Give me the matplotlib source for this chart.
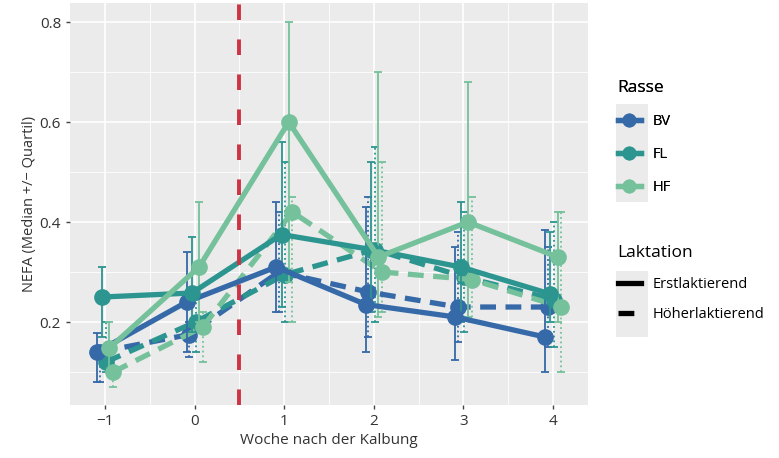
import matplotlib.pyplot as plt
from matplotlib.lines import Line2D
from matplotlib.patches import Rectangle

plt.rcParams['font.family'] = ['Open Sans', 'DejaVu Sans']

weeks = [-1, 0, 1, 2, 3, 4]
rassen = ["BV", "FL", "HF"]
farben = {"BV": "#3569a8", "FL": "#2c9590", "HF": "#74c19b"}

# Median, Erstlaktierend
erst_med = {
    "BV": [0.14, 0.24, 0.31, 0.235, 0.21, 0.17],
    "FL": [0.25, 0.258, 0.375, 0.345, 0.31, 0.256],
    "HF": [0.148, 0.31, 0.60, 0.33, 0.40, 0.33],
}
erst_q1 = {
    "BV": [0.08, 0.14, 0.22, 0.14, 0.125, 0.10],
    "FL": [0.17, 0.18, 0.23, 0.22, 0.20, 0.20],
    "HF": [0.10, 0.20, 0.28, 0.21, 0.21, 0.20],
}
erst_q3 = {
    "BV": [0.178, 0.34, 0.44, 0.43, 0.35, 0.384],
    "FL": [0.31, 0.37, 0.56, 0.52, 0.44, 0.38],
    "HF": [0.20, 0.44, 0.80, 0.70, 0.68, 0.42],
}
# Median, Hoeherlaktierend
hoeher_med = {
    "BV": [0.14, 0.175, 0.30, 0.26, 0.23, 0.23],
    "FL": [0.12, 0.20, 0.295, 0.345, 0.29, 0.245],
    "HF": [0.10, 0.19, 0.42, 0.30, 0.285, 0.23],
}
hoeher_q1 = {
    "BV": [0.08, 0.13, 0.22, 0.17, 0.16, 0.15],
    "FL": [0.10, 0.14, 0.20, 0.20, 0.18, 0.15],
    "HF": [0.07, 0.12, 0.20, 0.22, 0.20, 0.10],
}
hoeher_q3 = {
    "BV": [0.14, 0.20, 0.42, 0.45, 0.38, 0.35],
    "FL": [0.20, 0.25, 0.52, 0.55, 0.42, 0.40],
    "HF": [0.16, 0.22, 0.45, 0.52, 0.45, 0.42],
}

versatz_erst = {"BV": -0.09, "FL": -0.03, "HF": 0.05}
versatz_hoeher = {"BV": -0.06, "FL": 0.01, "HF": 0.09}

fig = plt.figure(figsize=(7.79, 4.58), dpi=100)
ax = fig.add_axes([0.0899, 0.1157, 0.665, 0.8777])
ax.set_facecolor("#ebebeb")
for s in ax.spines.values():
    s.set_visible(False)

def zeichne(med, q1, q3, versatz, ls, els, z):
    for r in rassen:
        x = [w + versatz[r] for w in weeks]
        lo = [m - a for m, a in zip(med[r], q1[r])]
        hi = [b - m for m, b in zip(med[r], q3[r])]
        eb = ax.errorbar(x, med[r], yerr=[lo, hi], fmt="none", ecolor=farben[r],
                         elinewidth=1.3, capsize=3, capthick=1.3, zorder=z)
        for lc in eb[2]:
            lc.set_linestyle(els)
        ax.plot(x, med[r], color=farben[r], lw=3.8, ls=ls, marker="o",
                markersize=11, zorder=z + 1, dashes=(3, 1.8) if ls == "--" else (None, None))

zeichne(hoeher_med, hoeher_q1, hoeher_q3, versatz_hoeher, "--", ":", 2)
zeichne(erst_med, erst_q1, erst_q3, versatz_erst, "-", "-", 4)

ax.axvline(0.5, color="#cc3344", lw=2.8, ls=(0, (4, 5)), zorder=6)

ax.set_xlim(-1.39, 4.39)
ax.set_ylim(0.034, 0.838)
ax.set_xticks(weeks)
ax.set_xticklabels(["\u22121", "0", "1", "2", "3", "4"])
ax.set_yticks([0.2, 0.4, 0.6, 0.8])
ax.set_yticks([0.1, 0.3, 0.5, 0.7], minor=True)
ax.set_xticks([-0.5, 0.5, 1.5, 2.5, 3.5], minor=True)
ax.grid(True, which="major", color="white", lw=1.2, zorder=0)
ax.grid(True, which="minor", color="white", lw=0.6, zorder=0)
ax.set_axisbelow(True)
ax.tick_params(which="major", length=3, width=1, color="#444444", labelsize=11, labelcolor="#333333")
ax.tick_params(which="minor", length=0)
ax.set_xlabel("Woche nach der Kalbung", fontsize=11, color="#333333", labelpad=3)
ax.set_ylabel("NEFA (Median +/\u2212 Quartil)", fontsize=10.5, color="#333333", labelpad=2)

# graue Hintergruende der Legendenschluessel
fig.add_artist(Rectangle((0.791, 0.559), 0.041, 0.214, transform=fig.transFigure,
                         facecolor="#ebebeb", edgecolor="none", zorder=0))
fig.add_artist(Rectangle((0.791, 0.265), 0.041, 0.143, transform=fig.transFigure,
                         facecolor="#ebebeb", edgecolor="none", zorder=0))

h_rasse = [Line2D([], [], color=farben[r], lw=3.8, marker="o", markersize=9) for r in rassen]
leg1 = fig.legend(h_rasse, rassen, loc="upper left", bbox_to_anchor=(0.776, 0.855),
                  frameon=False, title="Rasse", alignment="left", fontsize=10.5,
                  title_fontsize=12.5, labelspacing=1.25, handlelength=1.6)
h_lakt = [Line2D([], [], color="black", lw=3.8),
          Line2D([], [], color="black", lw=3.8, ls=(0, (3, 1.5, 0.6, 1.5)))]
leg2 = fig.legend(h_lakt, ["Erstlaktierend", "H\u00f6herlaktierend"], loc="upper left",
                  bbox_to_anchor=(0.776, 0.493), frameon=False, title="Laktation",
                  alignment="left", fontsize=10.5, title_fontsize=12.5,
                  labelspacing=1.05, handlelength=1.6)
fig.add_artist(leg1)

fig.savefig("out.png", dpi=100)
